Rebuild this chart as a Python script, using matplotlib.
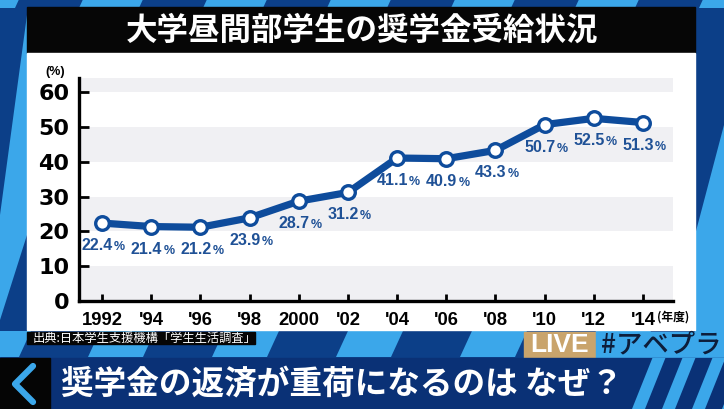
import matplotlib
matplotlib.use('Agg')
import matplotlib.pyplot as plt
from matplotlib.patches import Polygon, Rectangle

plt.rcParams['font.family'] = ['Liberation Sans', 'DejaVu Sans']

# data
years = [1992, 1994, 1996, 1998, 2000, 2002, 2004, 2006, 2008, 2010, 2012, 2014]
rates = [22.4, 21.4, 21.2, 23.9, 28.7, 31.2, 41.1, 40.9, 43.3, 50.7, 52.5, 51.3]
year_labels = ['1992', "'94", "'96", "'98", '2000', "'02", "'04", "'06",
               "'08", "'10", "'12", "'14"]
y_ticks = [0, 10, 20, 30, 40, 50, 60]

title = '大学昼間部学生の奨学金受給状況'
source = '出典:日本学生支援機構「学生生活調査」'
caption = '奨学金の返済が重荷になるのは なぜ？'

NAVY = '#0c3f88'
LIGHT = '#3ba7ea'
LINE = '#0e4c9c'
LABEL = '#1f5196'
BAND = '#f0f0f3'
JP = ['Noto Sans CJK JP', 'DejaVu Sans']

fig = plt.figure(figsize=(7.24, 4.09), dpi=100)

# ---- background (pixel coordinates, y downward)
bg = fig.add_axes([0, 0, 1, 1])
bg.set_xlim(0, 724)
bg.set_ylim(409, 0)
bg.axis('off')
bg.add_patch(Rectangle((0, 0), 724, 409, color=NAVY))


def para(x0, y0, y1, w, k=0.46, color=LIGHT):
    # slanted stripe, top edge shifted right
    s = (y1 - y0) * k
    bg.add_patch(Polygon([(x0, y1), (x0 + w, y1), (x0 + w + s, y0), (x0 + s, y0)],
                         closed=True, color=color, lw=0))


for x in range(-80, 724, 124):
    para(x + 35, 0, 8, 60)
    para(x + 44, 331, 357, 55)

# side wedges
bg.add_patch(Polygon([(27, 15), (27, 235), (0, 320), (0, 215)], color=LIGHT, lw=0))
bg.add_patch(Polygon([(695, 235), (724, 125), (724, 358), (695, 358)], color=LIGHT, lw=0))

# title bar and white panel
bg.add_patch(Rectangle((27, 7), 668, 46, color='#060606'))
bg.add_patch(Rectangle((27, 53), 668, 277, color='white'))
bg.text(362, 31, title, color='white', fontsize=22.7, fontweight='bold',
        family=JP, ha='center', va='center')

# source label
bg.add_patch(Rectangle((27, 332), 228, 12, color='#060606'))
bg.text(33, 338.5, source, color='white', fontsize=8.8, family=JP,
        ha='left', va='center')

# LIVE / hashtag
bg.add_patch(Rectangle((524, 332), 72, 26, color='#c9a46c'))
bg.text(560, 345.5, 'LIVE', color='white', fontsize=19, fontweight='bold',
        ha='center', va='center')
bg.add_patch(Rectangle((596, 332), 128, 26, color=LIGHT))
bg.text(601, 345, '#アベプラ', color='#0d1d3a', fontsize=19, fontweight='medium',
        family=JP, ha='left', va='center')

# bottom bar
bg.add_patch(Rectangle((0, 358), 724, 51, color='#0a3176'))
for x in range(632, 760, 30):
    para(x, 358, 409, 13, k=0.4)
bg.add_patch(Rectangle((0, 358), 50, 51, color='#050505'))
bg.plot([33, 15, 33], [366, 384, 402], color=LIGHT, lw=4.5,
        solid_capstyle='round', solid_joinstyle='round')
bg.text(61, 384, caption, color='white', fontsize=23.5, fontweight='bold',
        family=JP, ha='left', va='center')

# ---- chart
ax = fig.add_axes([79 / 724, 108 / 409, 594 / 724, 223 / 409])
ax.patch.set_alpha(0)
ax.set_xlim(1991.06, 2015.22)
ax.set_ylim(0, 64.1)

for lo, hi in [(0, 10), (20, 30), (40, 50), (60, 64.1)]:
    ax.axhspan(lo, hi, color=BAND, lw=0, zorder=0)

ax.plot(years, rates, color=LINE, lw=5.2, marker='o', ms=9.8,
        mfc='white', mec=LINE, mew=2.4, zorder=3, solid_joinstyle='round')

for x, v in zip(years, rates):
    ax.annotate('%.1f' % v, (x, v), xytext=(11, -27), textcoords='offset pixels',
                ha='right', va='baseline', fontsize=11.5, fontweight='bold',
                color=LABEL)
    ax.annotate('%', (x, v), xytext=(12, -27), textcoords='offset pixels',
                ha='left', va='baseline', fontsize=9, fontweight='bold',
                color=LABEL)

for side in ['top', 'right']:
    ax.spines[side].set_visible(False)
for side in ['left', 'bottom']:
    ax.spines[side].set_linewidth(2.4)
    ax.spines[side].set_color('black')

ax.set_xticks(years)
ax.set_xticklabels(year_labels, fontsize=13.3, fontweight='bold')
ax.set_yticks(y_ticks)
ax.set_yticklabels([str(t) for t in y_ticks], fontsize=16, fontweight='bold',
                   family='DejaVu Sans')
ax.tick_params(axis='x', direction='in', length=5, width=2, pad=8)
ax.tick_params(axis='y', direction='in', length=7, width=2, pad=7)

fig.text(55 / 724, 1 - 72 / 409, '(%)', fontsize=9, fontweight='bold',
         ha='center', va='center')
fig.text(673 / 724, 1 - 317 / 409, '(年度)', fontsize=8.5, fontweight='bold',
         family=JP, ha='center', va='center')

fig.savefig('out.png', dpi=100)
